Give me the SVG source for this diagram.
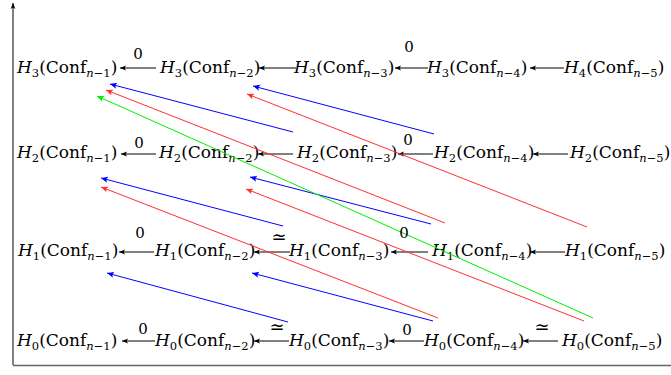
<svg xmlns="http://www.w3.org/2000/svg" width="671" height="375" viewBox="0 0 671 375">
<style>
text{font-family:"DejaVu Serif","Liberation Serif",serif;font-size:17px;fill:#000}
.i{font-style:italic}
.s{font-size:11.5px}
.lbl{text-anchor:middle;font-size:15px}
.eq{text-anchor:middle;font-size:18px;font-weight:300}
.k{stroke:#000;stroke-width:1;fill:none}
.b{stroke:#0000ff;stroke-width:1;fill:none}
.r{stroke:#ff3030;stroke-width:1;fill:none}
.g{stroke:#00ee00;stroke-width:1;fill:none}
</style>
<defs>
<marker id="mk" viewBox="0 0 6 6" refX="6" refY="3" markerWidth="6" markerHeight="6" markerUnits="userSpaceOnUse" orient="auto"><path d="M0,0.6 L6,3 L0,5.4 L1.4,3 z" fill="#000"/></marker>
<marker id="mb" viewBox="0 0 6 6" refX="6" refY="3" markerWidth="7" markerHeight="7" markerUnits="userSpaceOnUse" orient="auto"><path d="M0,0.4 L6,3 L0,5.6 L1.4,3 z" fill="#0000ff"/></marker>
<marker id="mr" viewBox="0 0 6 6" refX="6" refY="3" markerWidth="7" markerHeight="7" markerUnits="userSpaceOnUse" orient="auto"><path d="M0,0.4 L6,3 L0,5.6 L1.4,3 z" fill="#ff3030"/></marker>
<marker id="mg" viewBox="0 0 6 6" refX="6" refY="3" markerWidth="7" markerHeight="7" markerUnits="userSpaceOnUse" orient="auto"><path d="M0,0.4 L6,3 L0,5.6 L1.4,3 z" fill="#00ee00"/></marker>
</defs>
<rect width="671" height="375" fill="#fff"/>
<g id="axes">
<line x1="13" y1="365" x2="13" y2="3" class="k" marker-end="url(#mk)"/>
<line x1="13" y1="365.5" x2="671" y2="365.5" stroke="#666" stroke-width="1.6"/>
</g>
<g id="row3">
<g id="n3_1"><text x="17" y="73"><tspan class="i">H</tspan><tspan class="s" dy="3.5">3</tspan><tspan dy="-3.5">(Conf</tspan><tspan class="s i" dy="3.5">n</tspan><tspan class="s">−1</tspan><tspan dy="-3.5">)</tspan></text></g>
<g id="n3_2"><text x="160" y="73"><tspan class="i">H</tspan><tspan class="s" dy="3.5">3</tspan><tspan dy="-3.5">(Conf</tspan><tspan class="s i" dy="3.5">n</tspan><tspan class="s">−2</tspan><tspan dy="-3.5">)</tspan></text></g>
<g id="n3_3"><text x="294" y="73"><tspan class="i">H</tspan><tspan class="s" dy="3.5">3</tspan><tspan dy="-3.5">(Conf</tspan><tspan class="s i" dy="3.5">n</tspan><tspan class="s">−3</tspan><tspan dy="-3.5">)</tspan></text></g>
<g id="n3_4"><text x="427" y="73"><tspan class="i">H</tspan><tspan class="s" dy="3.5">3</tspan><tspan dy="-3.5">(Conf</tspan><tspan class="s i" dy="3.5">n</tspan><tspan class="s">−4</tspan><tspan dy="-3.5">)</tspan></text></g>
<g id="n4_5"><text x="564" y="73"><tspan class="i">H</tspan><tspan class="s" dy="3.5">4</tspan><tspan dy="-3.5">(Conf</tspan><tspan class="s i" dy="3.5">n</tspan><tspan class="s">−5</tspan><tspan dy="-3.5">)</tspan></text></g>
</g>
<g id="row2">
<g id="n2_1"><text x="17" y="158"><tspan class="i">H</tspan><tspan class="s" dy="3.5">2</tspan><tspan dy="-3.5">(Conf</tspan><tspan class="s i" dy="3.5">n</tspan><tspan class="s">−1</tspan><tspan dy="-3.5">)</tspan></text></g>
<g id="n2_2"><text x="159" y="158"><tspan class="i">H</tspan><tspan class="s" dy="3.5">2</tspan><tspan dy="-3.5">(Conf</tspan><tspan class="s i" dy="3.5">n</tspan><tspan class="s">−2</tspan><tspan dy="-3.5">)</tspan></text></g>
<g id="n2_3"><text x="297" y="158"><tspan class="i">H</tspan><tspan class="s" dy="3.5">2</tspan><tspan dy="-3.5">(Conf</tspan><tspan class="s i" dy="3.5">n</tspan><tspan class="s">−3</tspan><tspan dy="-3.5">)</tspan></text></g>
<g id="n2_4"><text x="434" y="158"><tspan class="i">H</tspan><tspan class="s" dy="3.5">2</tspan><tspan dy="-3.5">(Conf</tspan><tspan class="s i" dy="3.5">n</tspan><tspan class="s">−4</tspan><tspan dy="-3.5">)</tspan></text></g>
<g id="n2_5"><text x="570" y="158"><tspan class="i">H</tspan><tspan class="s" dy="3.5">2</tspan><tspan dy="-3.5">(Conf</tspan><tspan class="s i" dy="3.5">n</tspan><tspan class="s">−5</tspan><tspan dy="-3.5">)</tspan></text></g>
</g>
<g id="row1">
<g id="n1_1"><text x="18" y="256"><tspan class="i">H</tspan><tspan class="s" dy="3.5">1</tspan><tspan dy="-3.5">(Conf</tspan><tspan class="s i" dy="3.5">n</tspan><tspan class="s">−1</tspan><tspan dy="-3.5">)</tspan></text></g>
<g id="n1_2"><text x="155" y="256"><tspan class="i">H</tspan><tspan class="s" dy="3.5">1</tspan><tspan dy="-3.5">(Conf</tspan><tspan class="s i" dy="3.5">n</tspan><tspan class="s">−2</tspan><tspan dy="-3.5">)</tspan></text></g>
<g id="n1_3"><text x="289" y="256"><tspan class="i">H</tspan><tspan class="s" dy="3.5">1</tspan><tspan dy="-3.5">(Conf</tspan><tspan class="s i" dy="3.5">n</tspan><tspan class="s">−3</tspan><tspan dy="-3.5">)</tspan></text></g>
<g id="n1_4"><text x="432" y="256"><tspan class="i">H</tspan><tspan class="s" dy="3.5">1</tspan><tspan dy="-3.5">(Conf</tspan><tspan class="s i" dy="3.5">n</tspan><tspan class="s">−4</tspan><tspan dy="-3.5">)</tspan></text></g>
<g id="n1_5"><text x="565" y="256"><tspan class="i">H</tspan><tspan class="s" dy="3.5">1</tspan><tspan dy="-3.5">(Conf</tspan><tspan class="s i" dy="3.5">n</tspan><tspan class="s">−5</tspan><tspan dy="-3.5">)</tspan></text></g>
</g>
<g id="row0">
<g id="n0_1"><text x="17" y="346"><tspan class="i">H</tspan><tspan class="s" dy="3.5">0</tspan><tspan dy="-3.5">(Conf</tspan><tspan class="s i" dy="3.5">n</tspan><tspan class="s">−1</tspan><tspan dy="-3.5">)</tspan></text></g>
<g id="n0_2"><text x="155" y="346"><tspan class="i">H</tspan><tspan class="s" dy="3.5">0</tspan><tspan dy="-3.5">(Conf</tspan><tspan class="s i" dy="3.5">n</tspan><tspan class="s">−2</tspan><tspan dy="-3.5">)</tspan></text></g>
<g id="n0_3"><text x="289" y="346"><tspan class="i">H</tspan><tspan class="s" dy="3.5">0</tspan><tspan dy="-3.5">(Conf</tspan><tspan class="s i" dy="3.5">n</tspan><tspan class="s">−3</tspan><tspan dy="-3.5">)</tspan></text></g>
<g id="n0_4"><text x="424" y="346"><tspan class="i">H</tspan><tspan class="s" dy="3.5">0</tspan><tspan dy="-3.5">(Conf</tspan><tspan class="s i" dy="3.5">n</tspan><tspan class="s">−4</tspan><tspan dy="-3.5">)</tspan></text></g>
<g id="n0_5"><text x="562" y="346"><tspan class="i">H</tspan><tspan class="s" dy="3.5">0</tspan><tspan dy="-3.5">(Conf</tspan><tspan class="s i" dy="3.5">n</tspan><tspan class="s">−5</tspan><tspan dy="-3.5">)</tspan></text></g>
</g>
<g id="connectors">
<line x1="156" y1="68" x2="120" y2="68" class="k" marker-end="url(#mk)"/>
<line x1="296" y1="68" x2="259" y2="68" class="k" marker-end="url(#mk)"/>
<line x1="428" y1="68" x2="395" y2="68" class="k" marker-end="url(#mk)"/>
<line x1="564" y1="68" x2="530" y2="68" class="k" marker-end="url(#mk)"/>
<line x1="156" y1="154" x2="121" y2="154" class="k" marker-end="url(#mk)"/>
<line x1="293" y1="154" x2="258" y2="154" class="k" marker-end="url(#mk)"/>
<line x1="433" y1="154" x2="398" y2="154" class="k" marker-end="url(#mk)"/>
<line x1="568" y1="154" x2="533" y2="154" class="k" marker-end="url(#mk)"/>
<line x1="154" y1="252" x2="119" y2="252" class="k" marker-end="url(#mk)"/>
<line x1="290" y1="252" x2="254" y2="252" class="k" marker-end="url(#mk)"/>
<line x1="428" y1="252" x2="391" y2="252" class="k" marker-end="url(#mk)"/>
<line x1="565" y1="252" x2="530" y2="252" class="k" marker-end="url(#mk)"/>
<line x1="155" y1="341" x2="122" y2="341" class="k" marker-end="url(#mk)"/>
<line x1="289" y1="341" x2="254" y2="341" class="k" marker-end="url(#mk)"/>
<line x1="424" y1="341" x2="389" y2="341" class="k" marker-end="url(#mk)"/>
<line x1="558" y1="341" x2="523" y2="341" class="k" marker-end="url(#mk)"/>
<line x1="293" y1="132" x2="110" y2="84" class="b" marker-end="url(#mb)"/>
<line x1="434" y1="134" x2="253" y2="86" class="b" marker-end="url(#mb)"/>
<line x1="283" y1="226" x2="101" y2="178" class="b" marker-end="url(#mb)"/>
<line x1="431" y1="224" x2="250" y2="177" class="b" marker-end="url(#mb)"/>
<line x1="288" y1="322" x2="107" y2="273" class="b" marker-end="url(#mb)"/>
<line x1="433" y1="321" x2="252" y2="273" class="b" marker-end="url(#mb)"/>
<line x1="445" y1="223" x2="106" y2="90" class="r" marker-end="url(#mr)"/>
<line x1="587" y1="227" x2="247" y2="94" class="r" marker-end="url(#mr)"/>
<line x1="438" y1="318" x2="101" y2="187" class="r" marker-end="url(#mr)"/>
<line x1="584" y1="321" x2="246" y2="189" class="r" marker-end="url(#mr)"/>
<line x1="593" y1="318" x2="97" y2="96" class="g" marker-end="url(#mg)"/>
</g>
<g id="labels">
<text class="lbl" x="138" y="59">0</text>
<text class="lbl" x="409" y="52">0</text>
<text class="lbl" x="139" y="148">0</text>
<text class="lbl" x="408" y="145">0</text>
<text class="lbl" x="140" y="238">0</text>
<text class="eq" x="279" y="243">≃</text>
<text class="lbl" x="404" y="238">0</text>
<text class="lbl" x="143" y="334">0</text>
<text class="eq" x="277" y="333">≃</text>
<text class="lbl" x="407" y="335">0</text>
<text class="eq" x="542" y="333">≃</text>
</g>
</svg>
